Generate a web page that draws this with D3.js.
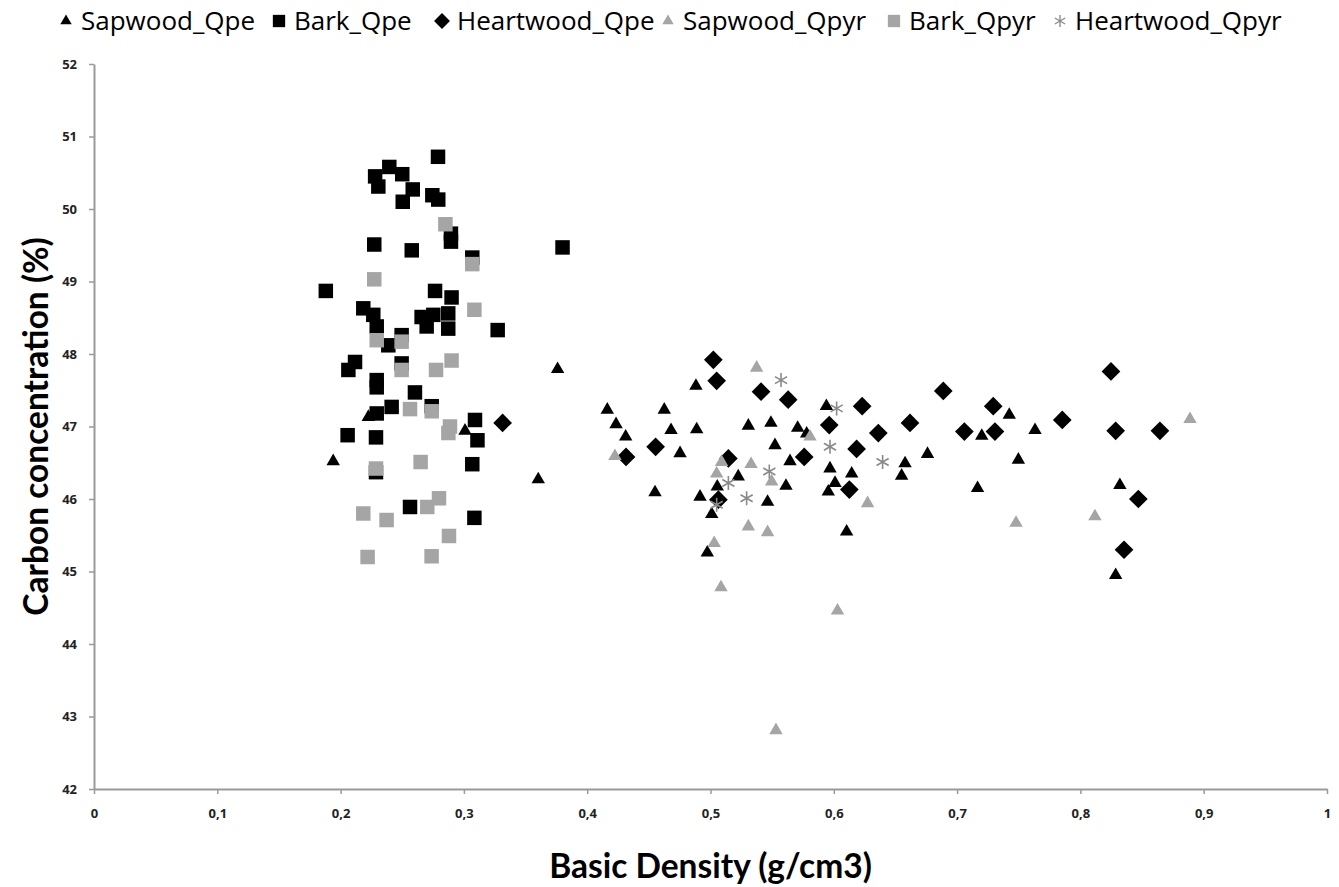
<!DOCTYPE html>
<html>
<head>
<meta charset="utf-8">
<script src="https://cdn.jsdelivr.net/npm/d3@7"></script>
<style>
  body { margin: 0; background: #fff; }
  svg { display: block; }
</style>
</head>
<body>
<div id="chart"></div>
<script>
////////////////////////////// Datos //////////////////////////////
var seriesNames = ["Sapwood_Qpe", "Bark_Qpe", "Heartwood_Qpe", "Sapwood_Qpyr", "Bark_Qpyr", "Heartwood_Qpyr"];

var sapwoodQpeX = [0.194, 0.2225, 0.3009, 0.3603, 0.376, 0.4163, 0.4234, 0.4312, 0.455, 0.4625, 0.468, 0.4753,
  0.4882, 0.4888, 0.4915, 0.501, 0.4974, 0.5055, 0.5225, 0.5307, 0.549, 0.5523, 0.5463, 0.5612, 0.5645, 0.5707,
  0.578, 0.594, 0.5969, 0.5955, 0.601, 0.6145, 0.6104, 0.655, 0.6578, 0.676, 0.7166, 0.72, 0.7423, 0.7497, 0.7632,
  0.832, 0.8286];
var sapwoodQpeY = [46.52, 47.13, 46.94, 46.27, 47.79, 47.23, 47.03, 46.86, 46.09, 47.23, 46.95, 46.63,
  47.56, 46.96, 46.03, 45.79, 45.26, 46.17, 46.31, 47.01, 47.05, 46.74, 45.96, 46.18, 46.52, 46.98,
  46.9, 47.28, 46.42, 46.10, 46.22, 46.35, 45.55, 46.32, 46.49, 46.62, 46.15, 46.87, 47.16, 46.54, 46.95,
  46.19, 44.95];

var barkQpeX = [0.279, 0.228, 0.2395, 0.250, 0.2306, 0.2585, 0.2504, 0.2744, 0.2792, 0.2895, 0.2895, 0.3068,
  0.2273, 0.2577, 0.188, 0.2766, 0.290, 0.2184, 0.2265, 0.2293, 0.2387, 0.2495, 0.2657, 0.2752, 0.2873, 0.2698,
  0.2873, 0.3274, 0.2117, 0.2063, 0.2495, 0.2293, 0.2293, 0.2603, 0.2414, 0.2293, 0.2739, 0.309, 0.311, 0.2057,
  0.2287, 0.2287, 0.3068, 0.2563, 0.3085, 0.380];
var barkQpeY = [50.72, 50.45, 50.58, 50.48, 50.31, 50.27, 50.10, 50.19, 50.13, 49.66, 49.55, 49.33,
  49.51, 49.43, 48.87, 48.87, 48.78, 48.63, 48.54, 48.38, 48.12, 48.26, 48.51, 48.54, 48.56, 48.38,
  48.35, 48.33, 47.89, 47.78, 47.87, 47.64, 47.54, 47.47, 47.27, 47.18, 47.28, 47.09, 46.81, 46.88,
  46.85, 46.37, 46.48, 45.89, 45.74, 49.47];

var heartQpeX = [0.3314, 0.4315, 0.4555, 0.5023, 0.505, 0.5145, 0.5064, 0.541, 0.563, 0.576, 0.5963, 0.6126,
  0.6185, 0.623, 0.6361, 0.6618, 0.6888, 0.7059, 0.7307, 0.7293, 0.7853, 0.8248, 0.8286, 0.8645, 0.847, 0.8354];
var heartQpeY = [47.05, 46.58, 46.72, 47.92, 47.63, 46.56, 45.99, 47.48, 47.37, 46.58, 47.02, 46.13,
  46.69, 47.28, 46.91, 47.05, 47.49, 46.93, 46.93, 47.28, 47.09, 47.76, 46.94, 46.94, 46.0, 45.30];

var sapwoodQpyrX = [0.4225, 0.503, 0.509, 0.505, 0.5085, 0.5374, 0.5329, 0.5307, 0.5463, 0.5496, 0.5531,
  0.5807, 0.603, 0.6274, 0.7478, 0.8118, 0.8889];
var sapwoodQpyrY = [46.59, 45.39, 46.51, 46.35, 44.78, 47.81, 46.48, 45.62, 45.54, 46.24, 42.81,
  46.86, 44.46, 45.94, 45.67, 45.76, 47.10];

var barkQpyrX = [0.285, 0.3068, 0.2273, 0.3085, 0.2293, 0.2495, 0.2495, 0.2774, 0.2900, 0.2563, 0.2739,
  0.2887, 0.2874, 0.2287, 0.2649, 0.2184, 0.2373, 0.2703, 0.2798, 0.2879, 0.2219, 0.2738];
var barkQpyrY = [49.79, 49.24, 49.03, 48.61, 48.19, 48.17, 47.78, 47.78, 47.91, 47.24, 47.21,
  47.0, 46.91, 46.42, 46.51, 45.80, 45.71, 45.89, 46.01, 45.49, 45.20, 45.21];

var heartQpyrX = [0.5572, 0.6023, 0.5969, 0.6396, 0.5477, 0.5293, 0.5145, 0.505];
var heartQpyrY = [47.64, 47.25, 46.72, 46.51, 46.38, 46.01, 46.22, 45.92];

var xTicks = [0, 0.1, 0.2, 0.3, 0.4, 0.5, 0.6, 0.7, 0.8, 0.9, 1];
var yTicks = [42, 43, 44, 45, 46, 47, 48, 49, 50, 51, 52];

////////////////////////////// Tamaño //////////////////////////////
var width = 1339, height = 887;
var plotLeft = 94, plotRight = 1327, plotTop = 64, plotBottom = 789;

var black = "#000000", gray = "#a5a5a5", starGray = "#8a8a8a";

var x = d3.scaleLinear().domain([0, 1]).range([plotLeft, plotRight]);
var y = d3.scaleLinear().domain([42, 52]).range([plotBottom, plotTop]);

var svg = d3.select("#chart").append("svg")
  .attr("width", width)
  .attr("height", height);

////////////////////////////// Ejes //////////////////////////////
var fmt = function(d) { return String(d).replace(".", ","); };

var xAxis = svg.append("g")
  .attr("transform", "translate(0," + plotBottom + ")")
  .call(d3.axisBottom(x).tickValues(xTicks).tickFormat(fmt).tickSize(5).tickSizeOuter(0));
var yAxis = svg.append("g")
  .attr("transform", "translate(" + plotLeft + ",0)")
  .call(d3.axisLeft(y).tickValues(yTicks).tickFormat(d3.format("d")).tickSize(5).tickSizeOuter(0));

[xAxis, yAxis].forEach(function(a) {
  a.select(".domain").attr("stroke", "#9a9a9a").attr("stroke-width", 2);
  a.selectAll(".tick line").attr("stroke", "#9a9a9a").attr("stroke-width", 1.5);
  a.selectAll(".tick text")
    .attr("fill", "#222")
    .style("font-family", "'Open Sans', sans-serif")
    .style("font-weight", "bold")
    .style("font-size", "13px");
});
xAxis.selectAll(".tick text").attr("dy", "1.6em");
yAxis.selectAll(".tick text").attr("x", -17);

svg.append("text")
  .attr("transform", "translate(36," + ((plotTop + plotBottom) / 2) + ") rotate(-90)")
  .attr("text-anchor", "middle")
  .attr("dy", "0.35em")
  .style("font-family", "Lato, 'Open Sans', sans-serif")
  .style("font-weight", "bold")
  .style("font-size", "33.5px")
  .text("Carbon concentration (%)");

svg.append("text")
  .attr("x", (plotLeft + plotRight) / 2)
  .attr("y", 866)
  .attr("text-anchor", "middle")
  .attr("dy", "0.35em")
  .style("font-family", "Lato, 'Open Sans', sans-serif")
  .style("font-weight", "bold")
  .style("font-size", "33.5px")
  .text("Basic Density (g/cm3)");

////////////////////////////// Marcadores //////////////////////////////
var triPath = d3.symbol().type(d3.symbolTriangle).size(78)();
var sqPath = d3.symbol().type(d3.symbolSquare).size(210)();
var diaPath = d3.symbol().type(d3.symbolSquare).size(175)();
function starPath() {
  var r = 7, a = r * Math.cos(Math.PI / 6), b = r * Math.sin(Math.PI / 6);
  return "M0," + (-r) + "L0," + r + "M" + (-a) + "," + (-b) + "L" + a + "," + b +
    "M" + (-a) + "," + b + "L" + a + "," + (-b);
}

var series = [
  { name: seriesNames[0], xs: sapwoodQpeX, ys: sapwoodQpeY, path: triPath, color: black, rot: 0 },
  { name: seriesNames[1], xs: barkQpeX, ys: barkQpeY, path: sqPath, color: black, rot: 0 },
  { name: seriesNames[2], xs: heartQpeX, ys: heartQpeY, path: diaPath, color: black, rot: 45 },
  { name: seriesNames[3], xs: sapwoodQpyrX, ys: sapwoodQpyrY, path: triPath, color: gray, rot: 0 },
  { name: seriesNames[4], xs: barkQpyrX, ys: barkQpyrY, path: sqPath, color: gray, rot: 0 },
  { name: seriesNames[5], xs: heartQpyrX, ys: heartQpyrY, path: starPath(), color: starGray, rot: 0, stroke: true }
];

function drawMarker(g, s) {
  var p = g.append("path").attr("d", s.path);
  if (s.stroke) {
    p.attr("fill", "none").attr("stroke", s.color).attr("stroke-width", 1.6);
  } else {
    p.attr("fill", s.color);
  }
  return p;
}

series.forEach(function(s) {
  var pts = s.xs.map(function(v, i) { return { x: v, y: s.ys[i] }; });
  var g = svg.append("g").attr("class", "series");
  g.selectAll("g.pt")
    .data(pts)
    .enter()
    .append("g")
      .attr("class", "pt")
      .attr("transform", function(d) {
        return "translate(" + x(d.x) + "," + y(d.y) + ") rotate(" + s.rot + ")";
      })
      .each(function() { drawMarker(d3.select(this), s); });
});

////////////////////////////// Leyenda //////////////////////////////
var legendX = [66, 279, 442, 668, 894, 1060];
var legend = svg.append("g");
series.forEach(function(s, i) {
  var item = legend.append("g").attr("transform", "translate(" + legendX[i] + ",21)");
  var m = item.append("g").attr("transform", "rotate(" + s.rot + ") scale(0.85)");
  drawMarker(m, s);
  item.append("text")
    .attr("x", 15)
    .attr("dy", "0.35em")
    .style("font-family", "'Open Sans', sans-serif")
    .style("font-size", "26px")
    .attr("fill", "#000")
    .text(s.name);
});
</script>
</body>
</html>
